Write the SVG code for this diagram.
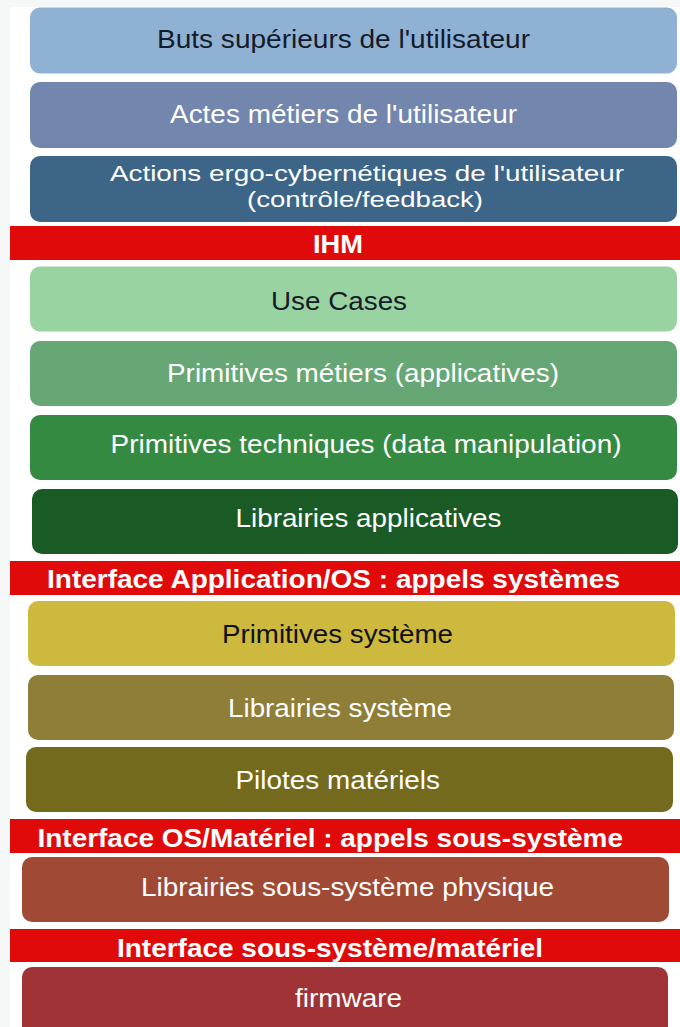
<svg xmlns="http://www.w3.org/2000/svg" width="680" height="1027" viewBox="0 0 680 1027">
<style>
.t{font-family:"Liberation Sans",Arial,sans-serif;font-size:25px;text-anchor:start}
.s{font-size:22px}
.w{fill:#ffffff}
.d{fill:#141c2a}
.b{font-weight:bold;font-size:25px;fill:#ffffff}
.band{fill:#e10a0a}
</style>
<rect x="0" y="0" width="680" height="1027" fill="#f6f8f8"/>
<rect x="10" y="7" width="670" height="1020" fill="#ffffff"/>
<g id="n1"><rect x="30" y="7.5" width="647" height="66" rx="10" fill="#8fb1d4"/><text class="t d" x="157" y="47.5" textLength="373" lengthAdjust="spacingAndGlyphs">Buts supérieurs de l'utilisateur</text></g>
<g id="n2"><rect x="30" y="82" width="647" height="66" rx="10" fill="#7386ae"/><text class="t w" x="170" y="123" textLength="347" lengthAdjust="spacingAndGlyphs">Actes métiers de l'utilisateur</text></g>
<g id="n3"><rect x="30" y="156" width="647" height="66" rx="10" fill="#3c6587"/><text class="t s w" x="110" y="181" textLength="514" lengthAdjust="spacingAndGlyphs">Actions ergo-cybernétiques de l'utilisateur</text><text class="t s w" x="247" y="207" textLength="236" lengthAdjust="spacingAndGlyphs">(contrôle/feedback)</text></g>
<g id="b1"><rect class="band" x="10" y="226" width="670" height="34"/><text class="t b" x="313" y="252.5" textLength="50" lengthAdjust="spacingAndGlyphs">IHM</text></g>
<g id="n4"><rect x="30" y="266.5" width="647" height="65" rx="10" fill="#9ad3a2"/><text class="t d" x="271" y="309.5" textLength="136" lengthAdjust="spacingAndGlyphs">Use Cases</text></g>
<g id="n5"><rect x="30" y="341" width="647" height="65" rx="10" fill="#66a775"/><text class="t w" x="167" y="382" textLength="392" lengthAdjust="spacingAndGlyphs">Primitives métiers (applicatives)</text></g>
<g id="n6"><rect x="30" y="415" width="647" height="65" rx="10" fill="#358a42"/><text class="t w" x="110.5" y="453" textLength="511" lengthAdjust="spacingAndGlyphs">Primitives techniques (data manipulation)</text></g>
<g id="n7"><rect x="32" y="489" width="646" height="65" rx="10" fill="#1a5a24"/><text class="t w" x="235.5" y="527" textLength="266" lengthAdjust="spacingAndGlyphs">Librairies applicatives</text></g>
<g id="b2"><rect class="band" x="10" y="561" width="670" height="34"/><text class="t b" x="47" y="588" textLength="573" lengthAdjust="spacingAndGlyphs">Interface Application/OS : appels systèmes</text></g>
<g id="n8"><rect x="28" y="601" width="647" height="65" rx="10" fill="#cdb93d"/><text class="t" fill="#111111" x="222" y="643" textLength="231" lengthAdjust="spacingAndGlyphs">Primitives système</text></g>
<g id="n9"><rect x="28" y="675" width="646" height="65" rx="10" fill="#8e7e37"/><text class="t w" x="228" y="716.5" textLength="224" lengthAdjust="spacingAndGlyphs">Librairies système</text></g>
<g id="n10"><rect x="26" y="747" width="647" height="65" rx="10" fill="#736a1d"/><text class="t w" x="235.5" y="789" textLength="204.5" lengthAdjust="spacingAndGlyphs">Pilotes matériels</text></g>
<g id="b3"><rect class="band" x="10" y="819" width="670" height="34"/><text class="t b" x="37.5" y="847" textLength="585.5" lengthAdjust="spacingAndGlyphs">Interface OS/Matériel : appels sous-système</text></g>
<g id="n11"><rect x="22" y="857" width="647" height="65" rx="10" fill="#a04a35"/><text class="t w" x="141" y="896" textLength="413" lengthAdjust="spacingAndGlyphs">Librairies sous-système physique</text></g>
<g id="b4"><rect class="band" x="10" y="929" width="670" height="33"/><text class="t b" x="117" y="956.5" textLength="426" lengthAdjust="spacingAndGlyphs">Interface sous-système/matériel</text></g>
<g id="n12"><rect x="22" y="967" width="646" height="75" rx="10" fill="#a03335"/><text class="t w" x="295" y="1006.5" textLength="107" lengthAdjust="spacingAndGlyphs">firmware</text></g>
<g id="connectors"></g>
</svg>
